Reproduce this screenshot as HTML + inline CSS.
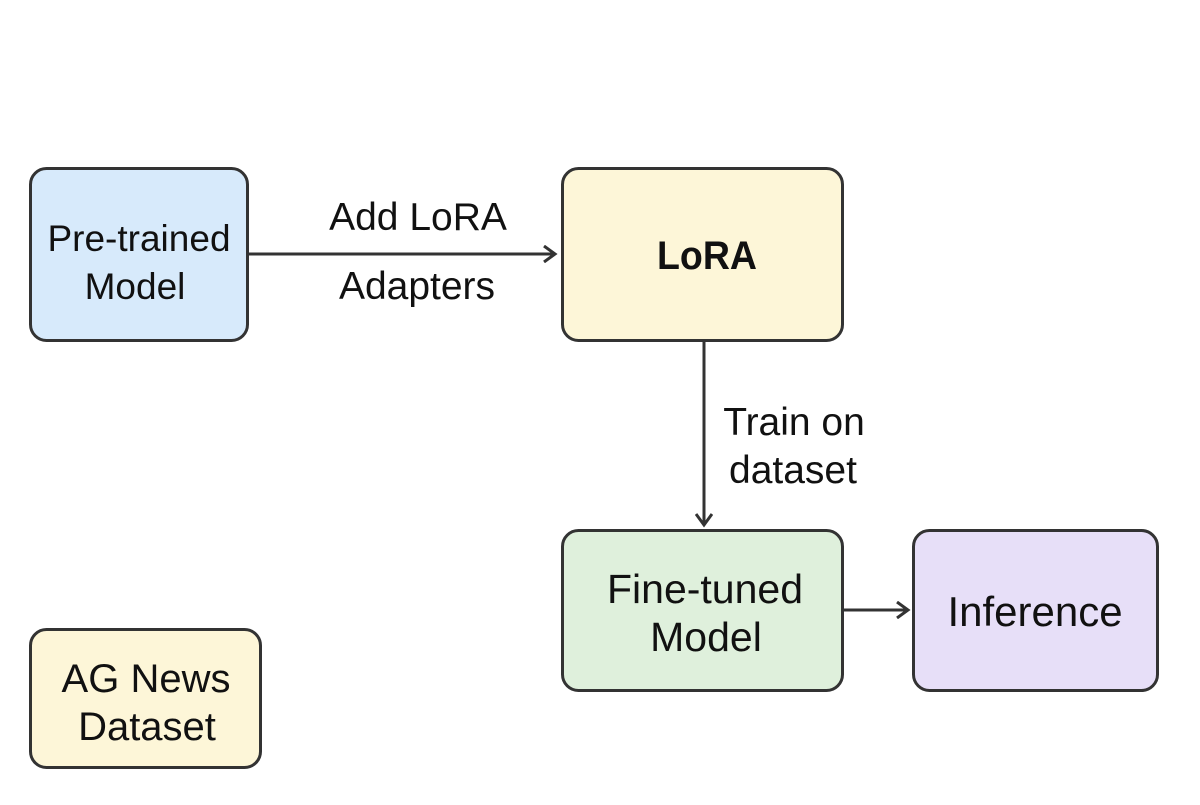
<!DOCTYPE html>
<html><head><meta charset="utf-8"><style>
body{margin:0;background:#fff;width:1200px;height:800px;overflow:hidden}
svg text{font-family:"Liberation Sans",sans-serif;fill:#111}
</style></head><body>
<svg width="1200" height="800" viewBox="0 0 1200 800">
<defs><marker id="a" markerWidth="16" markerHeight="18" refX="13" refY="9" orient="auto" markerUnits="userSpaceOnUse"><path d="M2,1 L13,9 L2,17" fill="none" stroke="#333" stroke-width="3"/></marker></defs>
<g stroke="#333" stroke-width="3">
<rect x="30.5" y="168.5" width="217" height="172" rx="16" fill="#d7eafb"/>
<rect x="562.5" y="168.5" width="280" height="172" rx="16" fill="#fdf6d8"/>
<rect x="562.5" y="530.5" width="280" height="160" rx="16" fill="#dff0dc"/>
<rect x="913.5" y="530.5" width="244" height="160" rx="16" fill="#e7dff8"/>
<rect x="30.5" y="629.5" width="230" height="138" rx="16" fill="#fdf6d8"/>
<g fill="none">
<line x1="248" y1="254" x2="555" y2="254" marker-end="url(#a)"/>
<line x1="704" y1="341" x2="704" y2="525" marker-end="url(#a)"/>
<line x1="843" y1="610" x2="908" y2="610" marker-end="url(#a)"/>
</g></g>
<g text-anchor="middle">
<text x="139" y="251" font-size="37">Pre-trained</text>
<text x="135" y="299" font-size="37">Model</text>
<text x="707" y="269" font-size="40" font-weight="bold" textLength="100" lengthAdjust="spacingAndGlyphs">LoRA</text>
<text x="705" y="603" font-size="41">Fine-tuned</text>
<text x="706" y="651" font-size="41">Model</text>
<text x="1035" y="626" font-size="42">Inference</text>
<text x="146" y="692" font-size="40">AG News</text>
<text x="147" y="740" font-size="40">Dataset</text>
<text x="418" y="230" font-size="39">Add LoRA</text>
<text x="417" y="299" font-size="39">Adapters</text>
<text x="794" y="435" font-size="39">Train on</text>
<text x="793" y="483" font-size="39">dataset</text>
</g>
</svg>
</body></html>
